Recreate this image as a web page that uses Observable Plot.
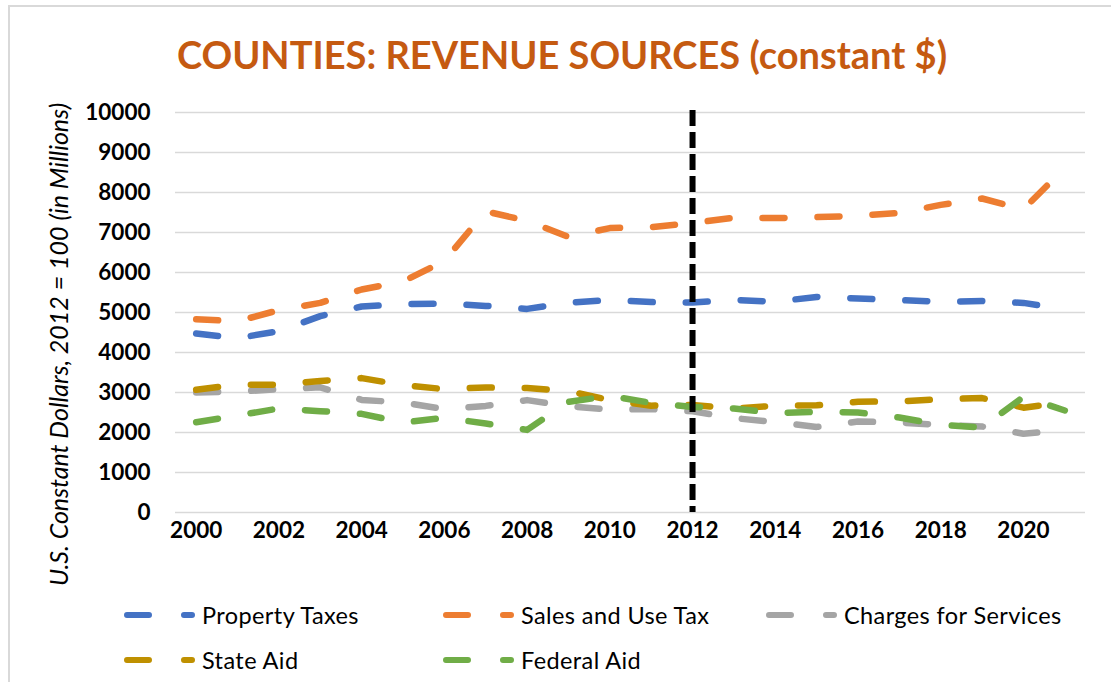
<!DOCTYPE html>
<html>
<head>
<meta charset="utf-8">
<script src="https://cdn.jsdelivr.net/npm/d3@7"></script>
<script src="https://cdn.jsdelivr.net/npm/@observablehq/plot@0.6"></script>
<style>
  html, body { margin: 0; padding: 0; background: #fff; }
  body { width: 1111px; height: 682px; position: relative; overflow: hidden; font-family: Lato, "Open Sans", sans-serif; }
  #frame { position: absolute; left: 8px; top: 5px; width: 1200px; height: 800px; border-top: 2px solid #d9d9d9; border-left: 2px solid #d9d9d9; }
  #title { position: absolute; left: 0; top: 29px; width: 1124px; text-align: center; color: #C55A11; font-weight: bold; font-size: 38px; line-height: 50px; white-space: nowrap; }
  #chart { position: absolute; left: 0; top: 90px; }
  #legend { position: absolute; left: 0; top: 0; }
  .item { position: absolute; display: flex; align-items: center; font-size: 23.5px; letter-spacing: 0.4px; color: #000; white-space: nowrap; height: 30px; }
  .item svg { margin-right: 6px; }
</style>
</head>
<body>
<div id="frame"></div>
<div id="title">COUNTIES: REVENUE SOURCES (constant $)</div>
<div id="chart"></div>
<div id="legend"></div>
<script>
const years = d3.range(2000, 2022);
const seriesNames = ["Property Taxes", "Sales and Use Tax", "Charges for Services", "State Aid", "Federal Aid"];
const seriesColors = ["#4472C4", "#ED7D31", "#A5A5A5", "#BF9000", "#70AD47"];
const propertyTaxes = [4475, 4360, 4535, 4910, 5150, 5210, 5225, 5165, 5090, 5240, 5315, 5260, 5250, 5315, 5270, 5390, 5350, 5310, 5270, 5285, 5240, 5080];
const salesAndUseTax = [4830, 4780, 5060, 5240, 5575, 5775, 6290, 7530, 7290, 6890, 7110, 7135, 7240, 7370, 7360, 7385, 7415, 7490, 7690, 7850, 7580, 8620];
const chargesForServices = [3000, 3025, 3080, 3130, 2815, 2750, 2585, 2665, 2810, 2660, 2570, 2585, 2530, 2360, 2260, 2140, 2275, 2250, 2190, 2150, 1970, 2060];
const stateAid = [3067, 3200, 3190, 3290, 3360, 3185, 3085, 3125, 3110, 3035, 2810, 2670, 2690, 2600, 2670, 2680, 2770, 2775, 2835, 2860, 2620, 2760];
const federalAid = [2258, 2425, 2600, 2533, 2467, 2250, 2367, 2225, 2065, 2767, 2915, 2740, 2640, 2600, 2485, 2517, 2500, 2375, 2190, 2125, 2890, 2550];
const xTicks = [2000, 2002, 2004, 2006, 2008, 2010, 2012, 2014, 2016, 2018, 2020];
const yTicks = [0, 1000, 2000, 3000, 4000, 5000, 6000, 7000, 8000, 9000, 10000];
const markerYear = 2012;
const yLabel = "U.S. Constant Dollars, 2012 = 100 (in Millions)";

const allSeries = [propertyTaxes, salesAndUseTax, chargesForServices, stateAid, federalAid];
const data = [];
allSeries.forEach((vals, i) => vals.forEach((v, j) => data.push({series: seriesNames[i], year: years[j], value: v})));

const chart = Plot.plot({
  width: 1111,
  height: 500,
  marginLeft: 175,
  marginRight: 26,
  marginTop: 22,
  marginBottom: 78,
  style: {fontFamily: "Lato", fontSize: "22.5px", fontWeight: "bold", color: "#000", background: "transparent", overflow: "visible"},
  x: {domain: [1999.5, 2021.5]},
  y: {domain: [0, 10000]},
  color: {domain: seriesNames, range: seriesColors},
  marks: [
    Plot.gridY(yTicks, {stroke: "#d9d9d9", strokeOpacity: 1, strokeWidth: 1.6}),
    Plot.axisY({ticks: yTicks, tickSize: 0, tickPadding: 25, tickFormat: d3.format("d"), label: null}),
    Plot.axisX({ticks: xTicks, tickSize: 0, tickPadding: 10, tickFormat: d3.format("d"), label: null}),
    Plot.line(data, {x: "year", y: "value", z: "series", stroke: "series", strokeWidth: 6.5, strokeDasharray: "22 33", strokeLinecap: "round", strokeLinejoin: "round"}),
    Plot.ruleX([markerYear], {y1: 10050, y2: 0, stroke: "#000", strokeWidth: 6, strokeDasharray: "16 6"}),
    Plot.text([yLabel], {text: d => d, frameAnchor: "left", textAnchor: "middle", lineAnchor: "middle", rotate: -90, dx: -116, dy: 32, fontStyle: "italic", fontWeight: "normal", fontSize: 25, fill: "#000"})
  ]
});
document.getElementById("chart").appendChild(chart);

const legend = document.getElementById("legend");
const legendPos = [[124, 615], [443, 615], [766, 615], [124, 660], [443, 660]];
seriesNames.forEach((name, i) => {
  const div = document.createElement("div");
  div.className = "item";
  div.style.left = legendPos[i][0] + "px";
  div.style.top = (legendPos[i][1] - 15) + "px";
  div.innerHTML = `<svg width="72" height="12"><line x1="3" y1="6" x2="68" y2="6" stroke="${seriesColors[i]}" stroke-width="6" stroke-linecap="round" stroke-dasharray="22 35"/></svg><span>${name}</span>`;
  legend.appendChild(div);
});
</script>
</body>
</html>
